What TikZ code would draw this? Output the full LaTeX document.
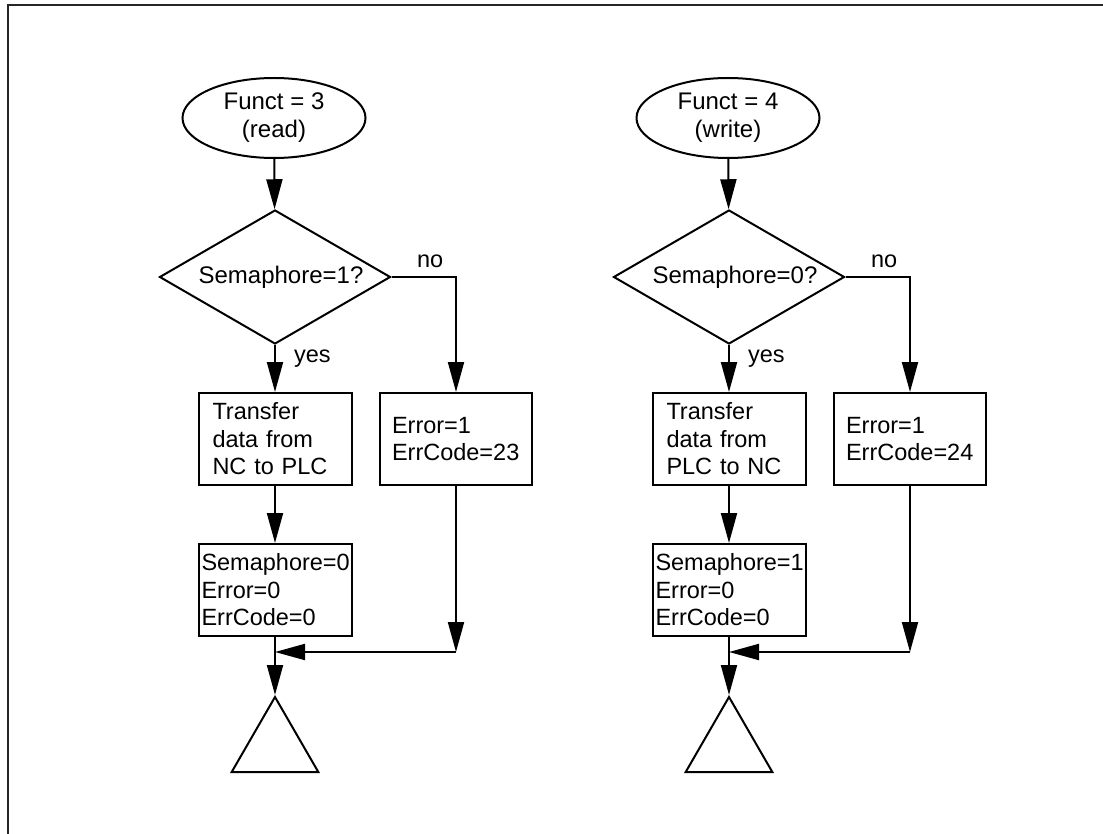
\documentclass[tikz,border=0pt]{standalone}
\usepackage{fontspec}
\setmainfont{Liberation Sans}
\usepackage{tikz}
\usetikzlibrary{arrows.meta, shapes.geometric}

\begin{document}
\begin{tikzpicture}[x=1pt, y=-1pt, line width=2pt,
  >={Triangle[length=30pt, width=16pt]},
  font=\fontsize{23.5}{27.5}\selectfont,
  startnode/.style={ellipse, draw, minimum width=183pt, minimum height=80pt, inner sep=0pt, align=center, font=\fontsize{24}{28}\selectfont},
  decision/.style={diamond, draw, aspect=1.72, minimum width=231pt, minimum height=134pt, inner sep=0pt, font=\fontsize{24}{28}\selectfont},
  action/.style={rectangle, draw, minimum height=92pt, inner ysep=0pt, align=left},
  endtri/.style={regular polygon, regular polygon sides=3, draw, minimum size=100pt, inner sep=0pt},
  lbl/.style={inner sep=2pt}]
  \useasboundingbox (0,0) rectangle (1103,834);
  % Rahmen
  \draw[line width=2.5pt, black!85] (8,834) -- (8,5) -- (1103,5);

  % Funct = 3 (read)
  \begin{scope}
    \node[startnode] (startl) at (274,118) {Funct = 3\\(read)};
    \node[decision] (decl) at (275,277) {\hspace*{12pt}Semaphore=1?};
    \node[action, inner xsep=14pt, text width=125pt] (xferl) at (275,439) {Transfer\\data from\\NC to PLC};
    \node[action, inner xsep=12pt, text width=128pt] (errl) at (456,439) {Error=1\\ErrCode=23};
    \node[action, inner xsep=3pt, text width=147pt] (semal) at (275,590) {Semaphore=0\\Error=0\\ErrCode=0};
    \node[endtri] (endl) at (275,747) {};
    \coordinate (joinl) at (275,652);
    \coordinate (cornl) at (errl.south |- joinl);
    \draw[->] (startl) -- (decl);
    \draw[->] (decl.south) -- node[lbl, right, pos=0.3, xshift=16pt] {yes} (xferl);
    \draw[->] (decl.east) -| node[lbl, above, pos=0.3, yshift=6pt] {no} (errl);
    \draw[->] (xferl) -- (semal);
    \draw[->] (errl) -- (cornl);
    \draw[->] (cornl) -- (joinl);
    \draw[->] (semal) -- (endl.corner 1);
  \end{scope}

  % Funct = 4 (write)
  \begin{scope}[xshift=454pt]
    \node[startnode] (startr) at (274,118) {Funct = 4\\(write)};
    \node[decision] (decr) at (275,277) {\hspace*{12pt}Semaphore=0?};
    \node[action, inner xsep=14pt, text width=125pt] (xferr) at (275,439) {Transfer\\data from\\PLC to NC};
    \node[action, inner xsep=12pt, text width=128pt] (errr) at (456,439) {Error=1\\ErrCode=24};
    \node[action, inner xsep=3pt, text width=147pt] (semar) at (275,590) {Semaphore=1\\Error=0\\ErrCode=0};
    \node[endtri] (endr) at (275,747) {};
    \coordinate (joinr) at (275,652);
    \coordinate (cornr) at (errr.south |- joinr);
    \draw[->] (startr) -- (decr);
    \draw[->] (decr.south) -- node[lbl, right, pos=0.3, xshift=16pt] {yes} (xferr);
    \draw[->] (decr.east) -| node[lbl, above, pos=0.3, yshift=6pt] {no} (errr);
    \draw[->] (xferr) -- (semar);
    \draw[->] (errr) -- (cornr);
    \draw[->] (cornr) -- (joinr);
    \draw[->] (semar) -- (endr.corner 1);
  \end{scope}
\end{tikzpicture}
\end{document}
